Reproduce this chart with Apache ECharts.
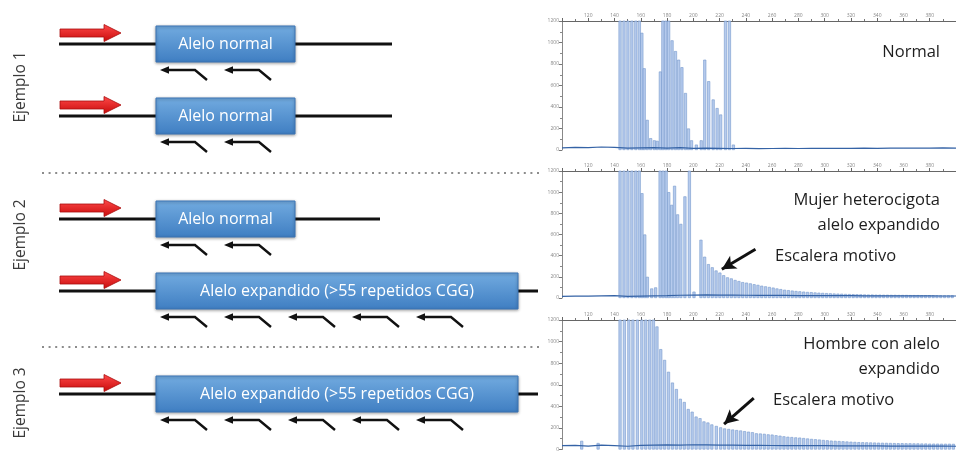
<!DOCTYPE html>
<html>
<head>
<meta charset="utf-8">
<script src="https://cdn.jsdelivr.net/npm/echarts/dist/echarts.min.js"></script>
<style>
html,body{margin:0;padding:0;background:#fff;}
#c{width:956px;height:452px;}
</style>
</head>
<body>
<div id="c"></div>
<script>
// ---------- DATA ----------
const exampleLabels = ['Ejemplo 1', 'Ejemplo 2', 'Ejemplo 3'];
const alleleExample = [0, 0, 1, 1, 2];
const alleleLabels = ['Alelo normal', 'Alelo normal', 'Alelo normal',
  'Alelo expandido (>55 repetidos CGG)', 'Alelo expandido (>55 repetidos CGG)'];
const alleleExpanded = [false, false, false, true, true];
const allelePrimers = [2, 2, 2, 5, 5];

const panelTitles = [['Normal'], ['Mujer heterocigota', 'alelo expandido'], ['Hombre con alelo', 'expandido']];
const ladderLabel = 'Escalera motivo';

// electropherogram peaks: [size (bp), height (RFU)]
const peaks1 = [[144.2,1500],[147.2,1500],[150.2,1500],[153.2,1500],[156.2,1500],[158.9,1500],[160.8,1090],[162.6,760],[164.9,280],[167.5,110],[170.3,90],[172.5,85],
  [174.9,730],[176.8,1500],[179,1500],[181.2,1500],[183.8,1020],[186.4,920],[188.8,840],[191.3,770],[194,530],[196.3,200],[198.6,90],[202.3,50],
  [206,90],[208.7,840],[211.7,640],[215.1,470],[218.1,390],[220.8,330],[224.5,1500],[227.5,1500],[230.5,50]];
const peaks2 = [[144.2,1500],[147.2,1500],[150.2,1500],[153.2,1500],[156.2,1500],[158.8,1500],[160.9,990],[163,600],[165,200],[168.3,90],[171.3,100],
  [174.7,1500],[177,1500],[179.3,1500],[181.3,1000],[183.5,880],[185.7,1060],[188,790],[190.5,700],[193.6,960],[197,1500],[200.5,60],
  [205.8,550],[208.6,390],[211.5,320],[214.4,290],[217.3,260],[220.2,240],[223.1,215],[226,195],[228.9,185],[231.8,170],[234.7,160],[237.6,150],[240.5,145],
  [243.4,138],[246.3,130],[249.2,124],[252.1,116],[255,110],[257.9,104],[260.8,98],[263.7,90],[266.6,84],[269.5,78],[272.4,74],[275.3,70],[278.2,66],
  [281.1,63],[284,60],[286.9,57],[289.8,55],[292.7,52],[295.6,50],[298.5,48],[301.4,46],[304.3,44],[307.2,42],[310.1,41],[313,40],[315.9,38],[318.8,37],
  [321.7,36],[324.6,35],[327.5,34],[330.4,33],[333.3,32],[336.2,32],[339.1,31],[342,31],[344.9,30],[347.8,30],[350.7,29],[353.6,29],[356.5,28],[359.4,28],
  [362.3,28],[365.2,27],[368.1,27],[371,27],[373.9,26],[376.8,26],[379.7,26],[382.6,26],[385.5,25],[388.4,25],[391.3,25],[394.2,25],[397.1,25]];
const peaks3 = [[115,80],[127.5,60],
  [144.2,1500],[147.5,1500],[150.9,1500],[154,1500],[157.4,1500],[160.8,1500],[163.8,1500],[166.8,1500],[169.6,1500],
  [172.3,1140],[175.2,930],[178.1,830],[181.1,720],[184.1,620],[187.1,560],[190.1,470],[193.1,440],[196.1,375],[199.1,350],[202.1,305],[205.1,290],
  [208.1,260],[211.1,250],[214.1,232],[217.5,218],[220.8,205],[223.8,195],[227,190],[230,185],[233,180],[236,176],[239,170],[242,165],[245,160],
  [248,150],[251,148],[254,145],[257,140],[260,138],[263,132],[266,128],[269,122],[272,118],[275,115],[278,112],[281,110],[284,106],[287,102],
  [290,98],[293,95],[296,92],[299,88],[302,85],[305,82],[308,80],[311,78],[314,76],[317,74],[320,72],[323,70],[326,68],[329,67],[332,66],[335,65],
  [338,64],[341,63],[344,62],[347,61],[350,60],[353,59],[356,58],[359,58],[362,57],[365,57],[368,56],[371,56],[374,55],[377,55],[380,54],[383,54],
  [386,54],[389,53],[392,53],[395,53],[398,52]];

// baseline noise (bp, RFU)
const noiseX = [100,110,120,130,140,150,160,170,180,190,200,210,220,230,240,250,260,270,280,290,300,310,320,330,340,350,360,370,380,390,400];
const noise1 = [20,25,22,28,24,18,20,22,18,22,15,18,16,14,15,13,14,15,14,16,15,16,15,17,16,18,17,18,17,19,18];
const noise2 = [15,18,17,20,22,16,18,20,22,26,28,30,28,27,26,25,24,24,23,23,22,22,22,21,21,20,20,20,20,19,19];
const noise3 = [35,38,32,40,36,30,38,40,42,40,44,42,40,40,38,38,37,36,36,35,35,34,34,33,33,32,32,32,31,31,30];

const sizeTicks = {min: 100, max: 400, step: 20};
const rfuTicks = {min: 0, max: 1200, step: 200};

// ---------- LAYOUT ----------
const LAY = {
  rowY: [44, 116, 219, 291, 394],
  lineX0: 59,
  lineX1Normal: [392, 392, 380],
  lineX1Expanded: 538,
  boxX0: 156, boxX1Normal: 295, boxX1Expanded: 518, boxHalf: 18,
  arrowX0: 60, arrowNeck: 104, arrowX1: 121, arrowDy: -11,
  primerX0: 160, primerStep: 64, primerDy: 26,
  sepY: [173, 347], sepX0: 42, sepX1: 540,
  exLabelX: 21, exLabelY: [87, 235, 403]
};

const chart = echarts.init(document.getElementById('c'), null, {renderer: 'canvas'});
const FONT = '"Open Sans", "Noto Sans", sans-serif';

function renderAllele(params, api) {
  const i = api.value(0);
  const P = (x, y) => api.coord([x, y]);
  const y = LAY.rowY[i];
  const exp = alleleExpanded[i];
  const lx1 = exp ? LAY.lineX1Expanded : LAY.lineX1Normal[i];
  const bx1 = exp ? LAY.boxX1Expanded : LAY.boxX1Normal;
  const ch = [];
  const a = P(LAY.lineX0, y), b = P(lx1, y);
  ch.push({type: 'line', shape: {x1: a[0], y1: a[1], x2: b[0], y2: b[1]}, style: {stroke: '#111', lineWidth: 3}});
  // red arrow
  const cy = y + LAY.arrowDy;
  const pts = [[LAY.arrowX0, cy - 4], [LAY.arrowNeck, cy - 4], [LAY.arrowNeck, cy - 8.5], [LAY.arrowX1, cy],
    [LAY.arrowNeck, cy + 8.5], [LAY.arrowNeck, cy + 4], [LAY.arrowX0, cy + 4]].map(p => P(p[0], p[1]));
  ch.push({type: 'polygon', shape: {points: pts}, style: {
    fill: new echarts.graphic.LinearGradient(0, 0, 0, 1, [{offset: 0, color: '#ff4a4a'}, {offset: 1, color: '#c80b0b'}]),
    stroke: '#a80d0d', lineWidth: 0.8}});
  // box
  const t = P(LAY.boxX0, y - LAY.boxHalf), br = P(bx1, y + LAY.boxHalf);
  ch.push({type: 'rect', shape: {x: t[0], y: t[1], width: br[0] - t[0], height: br[1] - t[1]}, style: {
    fill: new echarts.graphic.LinearGradient(0, 0, 0, 1, [{offset: 0, color: '#72abe0'}, {offset: 1, color: '#3f7ec2'}]),
    stroke: '#3b74b6', lineWidth: 1, shadowBlur: 3, shadowColor: 'rgba(0,0,0,0.35)', shadowOffsetY: 1}});
  const c = P((LAY.boxX0 + bx1) / 2, y);
  ch.push({type: 'text', style: {text: alleleLabels[i], x: c[0], y: c[1], align: 'center', verticalAlign: 'middle',
    fontSize: 16, fontFamily: FONT, fill: '#ffffff'}});
  // reverse primers
  for (let k = 0; k < allelePrimers[i]; k++) {
    const tx = LAY.primerX0 + k * LAY.primerStep, py = y + LAY.primerDy;
    const pl = [[tx + 6, py], [tx + 35, py], [tx + 47, py + 10]].map(p => P(p[0], p[1]));
    ch.push({type: 'polyline', shape: {points: pl}, style: {stroke: '#111', lineWidth: 2.4, fill: null}});
    const hd = [[tx, py], [tx + 9, py - 3.8], [tx + 9, py + 3.8]].map(p => P(p[0], p[1]));
    ch.push({type: 'polygon', shape: {points: hd}, style: {fill: '#111'}});
  }
  return {type: 'group', children: ch};
}

function renderSep(params, api) {
  const i = api.value(0);
  const a = api.coord([LAY.sepX0, LAY.sepY[i]]), b = api.coord([LAY.sepX1, LAY.sepY[i]]);
  return {type: 'line', shape: {x1: a[0], y1: a[1], x2: b[0], y2: b[1]},
    style: {stroke: '#8c8c8c', lineWidth: 2, lineDash: [2, 4.6]}};
}

const traceGrids = [
  {left: 562, top: 21, width: 397, height: 129},
  {left: 562, top: 171, width: 397, height: 127},
  {left: 562, top: 320, width: 397, height: 134}
];
const peaks = [peaks1, peaks2, peaks3];
const noises = [noise1, noise2, noise3];
const arrows = [null,
  [[247.3, 460], [221.7, 271]],
  [[246, 477], [223.4, 236]]];

const grid = [{left: 0, top: 0, width: 540, height: 452}].concat(traceGrids);
const xAxis = [{gridIndex: 0, type: 'value', min: 0, max: 540, show: false}];
const yAxis = [{gridIndex: 0, type: 'value', min: 0, max: 452, inverse: true, show: false}];
const series = [
  {type: 'custom', xAxisIndex: 0, yAxisIndex: 0, data: LAY.sepY.map((v, i) => [i]), renderItem: renderSep, silent: true, clip: false},
  {type: 'custom', xAxisIndex: 0, yAxisIndex: 0, data: alleleLabels.map((v, i) => [i]), renderItem: renderAllele, silent: true, clip: false}
];

traceGrids.forEach((g, k) => {
  const gi = k + 1;
  xAxis.push({gridIndex: gi, type: 'value', position: 'top', min: sizeTicks.min, max: sizeTicks.max, interval: sizeTicks.step,
    axisLine: {show: true, onZero: false, lineStyle: {color: '#666', width: 1}},
    axisTick: {show: true, length: 3, lineStyle: {color: '#666'}},
    minorTick: {show: true, splitNumber: 2, length: 2, lineStyle: {color: '#777'}},
    axisLabel: {fontSize: 5, color: '#888', margin: 3, showMinLabel: false, showMaxLabel: false, fontFamily: FONT,
      formatter: v => String(v)},
    splitLine: {show: false}});
  yAxis.push({gridIndex: gi, type: 'value', min: rfuTicks.min, max: rfuTicks.max, interval: rfuTicks.step,
    axisLine: {show: true, onZero: false, lineStyle: {color: '#888', width: 1}},
    axisTick: {show: true, length: 3, lineStyle: {color: '#777'}},
    minorTick: {show: true, splitNumber: 2, length: 2, lineStyle: {color: '#888'}},
    axisLabel: {fontSize: 5, color: '#888', margin: 3, fontFamily: FONT, formatter: v => String(v)},
    splitLine: {show: false}});
  series.push({type: 'bar', xAxisIndex: gi, yAxisIndex: gi, data: peaks[k], barWidth: 3, clip: true, silent: true,
    itemStyle: {color: 'rgba(172,196,234,0.88)', borderColor: '#7598cd', borderWidth: 0.6}});
  const ln = {type: 'line', xAxisIndex: gi, yAxisIndex: gi, data: noiseX.map((x, i) => [x, noises[k][i]]),
    symbol: 'none', silent: true, z: 3, lineStyle: {color: '#3563a6', width: 1.2}};
  if (arrows[k]) {
    ln.markLine = {silent: true, symbol: ['none', 'arrow'], symbolSize: [11, 14], animation: false,
      lineStyle: {color: '#111', width: 3, type: 'solid'}, label: {show: false}, emphasis: {disabled: true},
      data: [[{coord: arrows[k][0]}, {coord: arrows[k][1]}]]};
  }
  series.push(ln);
});

const TFS = 16.5;
const graphic = [];
exampleLabels.forEach((t, i) => {
  graphic.push({type: 'text', x: LAY.exLabelX, y: LAY.exLabelY[i], rotation: Math.PI / 2, silent: true,
    style: {text: t, align: 'center', verticalAlign: 'middle', fontSize: 15.5, fontFamily: FONT, fill: '#3a3a3a'}});
});
const titleY = [[52], [200, 225], [344, 369]];
panelTitles.forEach((lines, k) => {
  lines.forEach((t, j) => {
    graphic.push({type: 'text', x: 940, y: titleY[k][j], silent: true,
      style: {text: t, align: 'right', verticalAlign: 'middle', fontSize: TFS, fontFamily: FONT, fill: '#1e1e1e'}});
  });
});
[[775, 256], [773, 400]].forEach(p => {
  graphic.push({type: 'text', x: p[0], y: p[1], silent: true,
    style: {text: ladderLabel, align: 'left', verticalAlign: 'middle', fontSize: TFS, fontFamily: FONT, fill: '#1e1e1e'}});
});

chart.setOption({
  animation: false,
  backgroundColor: '#ffffff',
  grid, xAxis, yAxis, series, graphic
});
</script>
</body>
</html>
